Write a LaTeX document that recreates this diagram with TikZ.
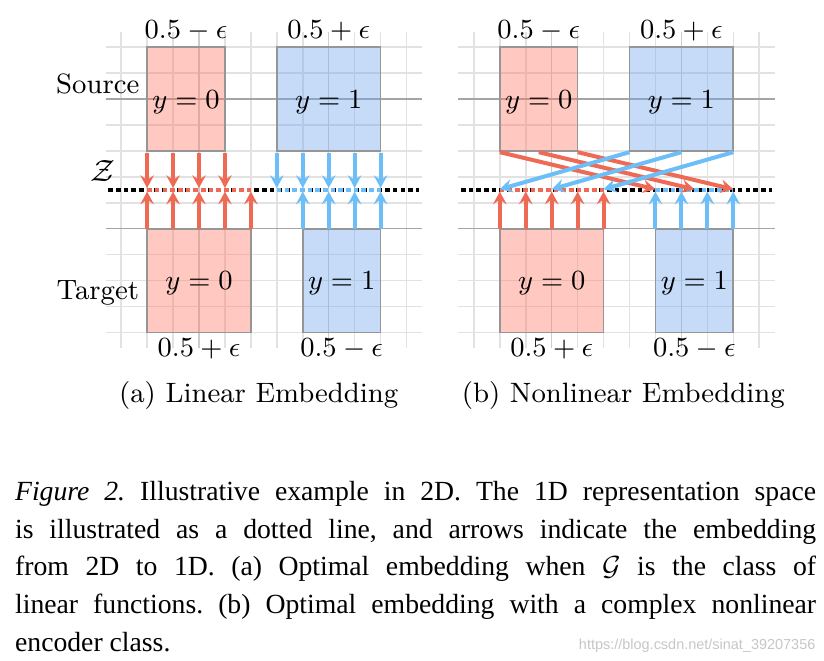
\documentclass[tikz,border=0pt]{standalone}
\usepackage{fontspec}
\newfontfamily\capfont{Liberation Serif}
\newfontfamily\wmfont{Liberation Sans}
\usetikzlibrary{arrows.meta}
\newdimen\pxu \pxu=0.325pt
\definecolor{arrred}{RGB}{239,106,84}
\definecolor{arrblue}{RGB}{108,190,248}
\definecolor{boxred}{RGB}{255,118,98}
\definecolor{boxblue}{RGB}{112,165,238}
\definecolor{boxgray}{RGB}{150,150,150}
\definecolor{gridgray}{RGB}{226,226,226}
\definecolor{axisgray}{RGB}{165,165,165}
\definecolor{vaxisgray}{RGB}{205,205,205}
\tikzset{
  gridline/.style={line width=0.5pt, draw=gridgray},
  axisline/.style={line width=0.5pt, draw=axisgray},
  vaxisline/.style={line width=0.5pt, draw=vaxisgray},
  sbox/.style={draw=boxgray, line width=0.55pt, fill opacity=0.4},
  redbox/.style={sbox, fill=boxred},
  bluebox/.style={sbox, fill=boxblue},
  emb/.style={line width=1.3pt, -{Stealth[length=4.1pt,width=4.4pt,inset=1.5pt]}},
  redarr/.style={emb, draw=arrred},
  bluearr/.style={emb, draw=arrblue},
  zline/.style={line width=1.45pt, dash pattern=on 1.5pt off 1pt},
  lbl/.style={font=\fontsize{9.1}{11}\selectfont, inner sep=0pt, anchor=base},
  capline/.style={font=\capfont\fontsize{9}{12}\selectfont\frenchspacing, inner sep=0pt, anchor=base west},
}
\begin{document}
\begin{tikzpicture}[x=\pxu,y=-\pxu]
\useasboundingbox (0,0) rectangle (824,661);
\fill[white] (0,0) rectangle (824,661);

% ---------------- panel (a) ----------------
\begin{scope}[shift={(199,99)}, x=25.94\pxu, y=25.94\pxu]
  \draw[gridline, step=1] (-3.6,-9.6) grid (8.6,2.6);
  \draw[vaxisline] (0,-9.6) -- (0,2.6);
  \draw[vaxisline] (5,-9.6) -- (5,2.6);
  \draw[axisline] (-3.6,0) -- (8.6,0);
  \draw[axisline] (-3.6,-5) -- (8.6,-5);
  \draw[redbox] (-2,-2) rectangle (1,2);
  \draw[bluebox] (3,-2) rectangle (7,2);
  \draw[redbox] (-2,-9) rectangle (2,-5);
  \draw[bluebox] (4,-9) rectangle (7,-5);
  \node[lbl] (aS0) at (-0.5,-0.36) {$y=0$};
  \node[lbl] (aS1) at (5,-0.36) {$y=1$};
  \node[lbl] (aT0) at (0,-7.36) {$y=0$};
  \node[lbl] (aT1) at (5.5,-7.36) {$y=1$};
  \node[lbl] (aS0p) at (-0.5,2.34) {$0.5-\epsilon$};
  \node[lbl] (aS1p) at (5,2.34) {$0.5+\epsilon$};
  \node[lbl] (aT0p) at (0,-9.92) {$0.5+\epsilon$};
  \node[lbl] (aT1p) at (5.5,-9.92) {$0.5-\epsilon$};
  \node[lbl] (src) at (-3.9,0.22) {Source};
  \node[lbl] (tgt) at (-3.9,-7.72) {Target};
  \node[font=\fontsize{9.6}{11}\selectfont, inner sep=0pt] (zlab) at (-3.69,-2.76) {$\mathcal{Z}$};
  \coordinate (aZl) at (-3.5,-3.5);
  \coordinate (aZr) at (8.5,-3.5);
  \coordinate (aRl) at (-2,-3.5);
  \coordinate (aRr) at (2,-3.5);
  \coordinate (aBl) at (3,-3.5);
  \coordinate (aBr) at (7,-3.5);
  \draw[zline, black] (aZl) -- (aZr);
  \draw[zline, arrred] (aRl) -- (aRr);
  \draw[zline, arrblue] (aBl) -- (aBr);
  \foreach \x [count=\i] in {-2,-1,0,1} {
    \coordinate (aSr\i) at (\x,-2.08);
    \coordinate (aZsr\i) at (\x,-3.43);
    \draw[redarr] (aSr\i) -- (aZsr\i);
  }
  \foreach \x [count=\i] in {3,4,5,6,7} {
    \coordinate (aSb\i) at (\x,-2.08);
    \coordinate (aZsb\i) at (\x,-3.43);
    \draw[bluearr] (aSb\i) -- (aZsb\i);
  }
  \foreach \x [count=\i] in {-2,-1,0,1,2} {
    \coordinate (aTr\i) at (\x,-5);
    \coordinate (aZtr\i) at (\x,-3.57);
    \draw[redarr] (aTr\i) -- (aZtr\i);
  }
  \foreach \x [count=\i] in {4,5,6,7} {
    \coordinate (aTb\i) at (\x,-5);
    \coordinate (aZtb\i) at (\x,-3.57);
    \draw[bluearr] (aTb\i) -- (aZtb\i);
  }
\end{scope}

% ---------------- panel (b) ----------------
\begin{scope}[shift={(551.7,99)}, x=25.94\pxu, y=25.94\pxu]
  \draw[gridline, step=1] (-3.6,-9.6) grid (8.6,2.6);
  \draw[vaxisline] (0,-9.6) -- (0,2.6);
  \draw[vaxisline] (5,-9.6) -- (5,2.6);
  \draw[axisline] (-3.6,0) -- (8.6,0);
  \draw[axisline] (-3.6,-5) -- (8.6,-5);
  \draw[redbox] (-2,-2) rectangle (1,2);
  \draw[bluebox] (3,-2) rectangle (7,2);
  \draw[redbox] (-2,-9) rectangle (2,-5);
  \draw[bluebox] (4,-9) rectangle (7,-5);
  \node[lbl] (bS0) at (-0.5,-0.36) {$y=0$};
  \node[lbl] (bS1) at (5,-0.36) {$y=1$};
  \node[lbl] (bT0) at (0,-7.36) {$y=0$};
  \node[lbl] (bT1) at (5.5,-7.36) {$y=1$};
  \node[lbl] (bS0p) at (-0.5,2.34) {$0.5-\epsilon$};
  \node[lbl] (bS1p) at (5,2.34) {$0.5+\epsilon$};
  \node[lbl] (bT0p) at (0,-9.92) {$0.5+\epsilon$};
  \node[lbl] (bT1p) at (5.5,-9.92) {$0.5-\epsilon$};
  \coordinate (bZl) at (-3.5,-3.5);
  \coordinate (bZr) at (8.5,-3.5);
  \coordinate (bRl) at (-2,-3.5);
  \coordinate (bRr) at (2,-3.5);
  \coordinate (bBl) at (4,-3.5);
  \coordinate (bBr) at (7,-3.5);
  \draw[zline, black] (bZl) -- (bZr);
  \draw[zline, arrred] (bRl) -- (bRr);
  \draw[zline, arrblue] (bBl) -- (bBr);
  % crossing arrows
  \foreach \s/\t [count=\i] in {-2/4, -0.5/5.5, 1/7} {
    \coordinate (bSr\i) at (\s,-2.05);
    \coordinate (bZsr\i) at (\t,-3.48);
    \draw[redarr] (bSr\i) -- (bZsr\i);
  }
  \foreach \s/\t [count=\i] in {3/-2, 5/0, 7/2} {
    \coordinate (bSb\i) at (\s,-2.05);
    \coordinate (bZsb\i) at (\t,-3.48);
    \draw[bluearr] (bSb\i) -- (bZsb\i);
  }
  \foreach \x [count=\i] in {-2,-1,0,1,2} {
    \coordinate (bTr\i) at (\x,-5);
    \coordinate (bZtr\i) at (\x,-3.57);
    \draw[redarr] (bTr\i) -- (bZtr\i);
  }
  \foreach \x [count=\i] in {4,5,6,7} {
    \coordinate (bTb\i) at (\x,-5);
    \coordinate (bZtb\i) at (\x,-3.57);
    \draw[bluearr] (bTb\i) -- (bZtb\i);
  }
\end{scope}

% sub-captions
\node[lbl] (capa) at (258.7,402.5) {(a) Linear Embedding};
\node[lbl] (capb) at (623.3,402.5) {(b) Nonlinear Embedding};

% caption
\node[capline] (cl1) at (14.5,500.7) {\makebox[801\pxu][s]{\textit{Figure 2.} Illustrative example in 2D. The 1D representation space}};
\node[capline] (cl2) at (14.5,538.3) {\makebox[801\pxu][s]{is illustrated as a dotted line, and arrows indicate the embedding}};
\node[capline] (cl3) at (14.5,575.9) {\makebox[801\pxu][s]{from 2D to 1D. (a) Optimal embedding when $\mathcal{G}$ is the class of}};
\node[capline] (cl4) at (14.5,613.5) {\makebox[801\pxu][s]{linear functions. (b) Optimal embedding with a complex nonlinear}};
\node[capline] (cl5) at (14.5,651.1) {encoder class.};
\node[font=\wmfont\fontsize{4.7}{5}\selectfont, text=black!22, inner sep=0pt, anchor=base east] (wm) at (816,649) {https://blog.csdn.net/sinat\_39207356};
\end{tikzpicture}
\end{document}
